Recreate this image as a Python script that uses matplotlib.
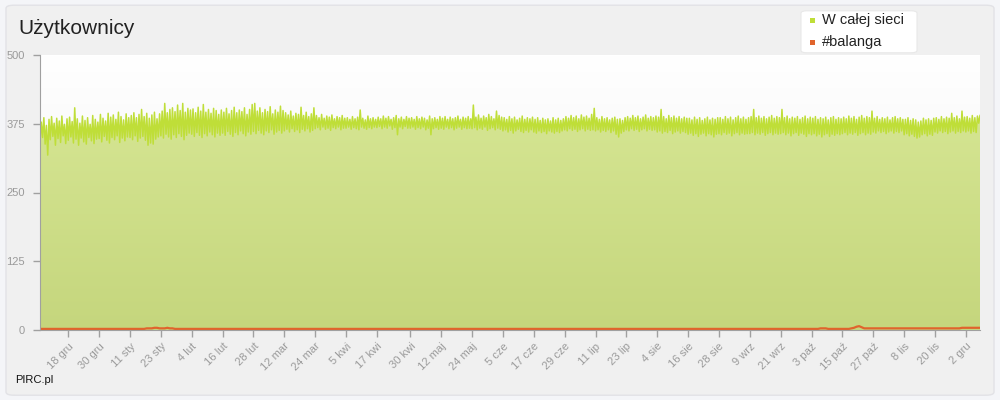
import numpy as np
import matplotlib
matplotlib.use("Agg")
import matplotlib.pyplot as plt
import matplotlib.dates as mdates
from matplotlib.patches import FancyBboxPatch, Rectangle
from matplotlib.colors import LinearSegmentedColormap
import datetime as dt

plt.rcParams['font.family'] = ['Liberation Sans', 'DejaVu Sans']

title = "Użytkownicy"
series_names = ["W całej sieci", "#balanga"]
start_date = dt.date(2012, 12, 7)

# daily high (evening) and low (morning) user counts, whole network
net_hi = [
    378, 386, 372, 383, 388, 376, 385, 380, 389, 374, 384,
    387, 379, 404, 384, 376, 389, 381, 386, 374, 390, 383, 378,
    392, 385, 380, 394, 387, 391, 383, 396, 388, 382, 393, 386,
    390, 395, 386, 392, 401, 388, 394, 385, 391, 396, 384, 393,
    398, 412, 395, 401, 404, 397, 409, 399, 412, 396, 403, 400,
    402, 395, 405, 398, 410, 396, 401, 394, 403, 399, 392, 400,
    396, 403, 393, 399, 405, 395, 400, 397, 404, 392, 401, 410,
    412, 398, 404, 395, 401, 397, 406, 393, 400, 396, 407, 399,
    395, 391, 398, 389, 394, 392, 405, 390, 396, 388, 393, 404,
    390, 386, 392, 385, 389, 387, 391, 384, 388, 386, 390, 385,
    386, 383, 388, 384, 387, 400, 385, 382, 389, 384, 386, 383,
    387, 384, 389, 385, 388, 383, 386, 390, 384, 387, 383, 388, 385,
    386, 383, 388, 384, 387, 385, 382, 389, 384, 386, 383, 388,
    385, 388, 383, 387, 384, 386, 389, 383, 387, 385, 388, 384,
    409, 387, 391, 385, 389, 386, 392, 388, 384, 398, 390, 387,
    386, 383, 388, 384, 387, 382, 385, 389, 383, 386, 384, 387,
    383, 386, 381, 385, 382, 384, 380, 386, 382, 385, 381, 384,
    388, 385, 390, 386, 389, 384, 391, 387, 389, 385, 392, 403,
    386, 383, 388, 384, 386, 382, 385, 387, 383, 384, 381, 386,
    388, 385, 390, 386, 389, 384, 387, 391, 385, 388, 386, 389,
    387, 401, 388, 384, 390, 386, 389, 385, 388, 384, 387, 385,
    385, 382, 387, 383, 386, 381, 384, 387, 382, 385, 383, 386,
    386, 383, 388, 384, 387, 382, 386, 389, 384, 387, 383, 386,
    388, 401, 386, 389, 385, 388, 384, 387, 390, 385, 388, 386,
    401, 386, 389, 384, 387, 385, 388, 383, 386, 389, 384, 387,
    385, 388, 383, 386, 384, 387, 382, 386, 388, 383, 386, 384,
    387, 384, 389, 385, 388, 383, 387, 390, 385, 388, 386, 398,
    385, 388, 383, 386, 384, 387, 382, 386, 388, 384, 386, 383,
    383, 386, 381, 384, 382, 378, 380, 385, 382, 384, 381, 385,
    386, 383, 388, 384, 387, 385, 394, 386, 389, 384, 398, 387,
    388, 385, 390, 386, 389, 390,
]
net_lo = [
    342, 350, 338, 318, 346, 352, 336, 348, 341, 353, 339,
    345, 351, 340, 347, 336, 349, 342, 338, 350, 344, 339, 347,
    348, 342, 352, 345, 340, 350, 346, 353, 341, 349, 344, 351,
    350, 346, 353, 343, 349, 352, 345, 336, 340, 338, 347, 351,
    353, 349, 356, 351, 347, 355, 350, 357, 352, 346, 354, 358,
    356, 352, 359, 354, 350, 357, 353, 360, 355, 351, 358, 354,
    358, 354, 361, 356, 352, 359, 355, 362, 357, 353, 360, 356,
    361, 357, 363, 358, 355, 362, 359, 364, 356, 360, 363, 358,
    362, 365, 360, 366, 361, 364, 359, 365, 362, 366, 360, 363,
    366, 368, 364, 369, 365, 367, 363, 368, 366, 369, 364, 367,
    367, 369, 365, 368, 366, 364, 369, 367, 365, 368, 366, 369,
    368, 370, 366, 369, 367, 371, 365, 368, 355, 369, 366, 370, 367,
    367, 369, 365, 368, 366, 369, 364, 367, 355, 366, 368, 365,
    367, 365, 369, 366, 368, 364, 367, 369, 365, 368, 366, 367,
    366, 368, 364, 367, 365, 369, 363, 366, 368, 364, 367, 365,
    362, 364, 360, 363, 358, 362, 365, 361, 359, 363, 360, 364,
    360, 358, 362, 359, 361, 357, 362, 360, 358, 361, 359, 362,
    364, 362, 366, 363, 365, 361, 364, 366, 362, 365, 363, 364,
    362, 364, 360, 363, 361, 364, 359, 362, 356, 351, 358, 361,
    364, 362, 366, 363, 365, 361, 364, 366, 362, 365, 363, 364,
    360, 362, 358, 361, 359, 363, 357, 360, 362, 358, 361, 359,
    356, 358, 354, 357, 352, 356, 358, 353, 357, 355, 351, 356,
    357, 355, 359, 356, 358, 353, 357, 359, 355, 358, 356, 357,
    357, 359, 355, 358, 356, 359, 354, 357, 359, 355, 358, 356,
    357, 359, 355, 358, 353, 357, 359, 354, 358, 356, 352, 357,
    355, 357, 353, 356, 351, 355, 357, 352, 356, 354, 357, 355,
    357, 359, 355, 358, 356, 359, 354, 357, 359, 355, 358, 356,
    360, 358, 362, 359, 361, 357, 360, 362, 358, 361, 359, 362,
    355, 357, 353, 356, 352, 349, 351, 355, 357, 353, 356, 354,
    360, 358, 362, 359, 361, 357, 360, 362, 358, 361, 359, 362,
    360, 362, 358, 361, 359, 376,
]
# daily users on #balanga
balanga = [
    2, 2, 2, 2, 2, 2, 2, 2, 2, 2, 2,
    2, 2, 2, 2, 2, 2, 2, 2, 2, 2, 2, 2,
    2, 2, 2, 2, 2, 2, 2, 2, 2, 2, 2, 2,
    2, 2, 2, 2, 2, 2, 3, 3, 3, 4, 4, 3,
    3, 3, 4, 3, 3, 2, 2, 2, 2, 2, 2, 2,
    2, 2, 2, 2, 2, 2, 2, 2, 2, 2, 2, 2,
    2, 2, 2, 2, 2, 2, 2, 2, 2, 2, 2, 2,
    2, 2, 2, 2, 2, 2, 2, 2, 2, 2, 2, 2,
    2, 2, 2, 2, 2, 2, 2, 2, 2, 2, 2, 2,
    2, 2, 2, 2, 2, 2, 2, 2, 2, 2, 2, 2,
    2, 2, 2, 2, 2, 2, 2, 2, 2, 2, 2, 2,
    2, 2, 2, 2, 2, 2, 2, 2, 2, 2, 2, 2, 2,
    2, 2, 2, 2, 2, 2, 2, 2, 2, 2, 2, 2,
    2, 2, 2, 2, 2, 2, 2, 2, 2, 2, 2, 2,
    2, 2, 2, 2, 2, 2, 2, 2, 2, 2, 2, 2,
    2, 2, 2, 2, 2, 2, 2, 2, 2, 2, 2, 2,
    2, 2, 2, 2, 2, 2, 2, 2, 2, 2, 2, 2,
    2, 2, 2, 2, 2, 2, 2, 2, 2, 2, 2, 2,
    2, 2, 2, 2, 2, 2, 2, 2, 2, 2, 2, 2,
    2, 2, 2, 2, 2, 2, 2, 2, 2, 2, 2, 2,
    2, 2, 2, 2, 2, 2, 2, 2, 2, 2, 2, 2,
    2, 2, 2, 2, 2, 2, 2, 2, 2, 2, 2, 2,
    2, 2, 2, 2, 2, 2, 2, 2, 2, 2, 2, 2,
    2, 2, 2, 2, 2, 2, 2, 2, 2, 2, 2, 2,
    2, 2, 2, 2, 2, 2, 2, 2, 2, 2, 2, 2,
    2, 2, 2, 3, 3, 3, 2, 2, 2, 2, 2, 2,
    2, 2, 2, 3, 4, 6, 7, 5, 3, 3, 3, 3,
    3, 3, 3, 3, 3, 3, 3, 3, 3, 3, 3, 3,
    3, 3, 3, 3, 3, 3, 3, 3, 3, 3, 3, 3,
    3, 3, 3, 3, 3, 3, 3, 3, 3, 3, 4, 4,
    4, 4, 4, 4, 4, 4,
]

tick_dates = ["2012-12-18", "2012-12-30", "2013-01-11", "2013-01-23", "2013-02-04",
              "2013-02-16", "2013-02-28", "2013-03-12", "2013-03-24", "2013-04-05",
              "2013-04-17", "2013-04-30", "2013-05-12", "2013-05-24", "2013-06-05",
              "2013-06-17", "2013-06-29", "2013-07-11", "2013-07-23", "2013-08-04",
              "2013-08-16", "2013-08-28", "2013-09-09", "2013-09-21", "2013-10-03",
              "2013-10-15", "2013-10-27", "2013-11-08", "2013-11-20", "2013-12-02"]
tick_labels = ["18 gru", "30 gru", "11 sty", "23 sty", "4 lut", "16 lut", "28 lut",
               "12 mar", "24 mar", "5 kwi", "17 kwi", "30 kwi", "12 maj", "24 maj",
               "5 cze", "17 cze", "29 cze", "11 lip", "23 lip", "4 sie", "16 sie",
               "28 sie", "9 wrz", "21 wrz", "3 paź", "15 paź", "27 paź", "8 lis",
               "20 lis", "2 gru"]
y_ticks = [0, 125, 250, 375, 500]

# ---- build series on a date axis ----
n = min(len(net_hi), len(net_lo))
base = mdates.date2num(start_date)
days = base + np.arange(n)
net_x = np.empty(2 * n)
net_y = np.empty(2 * n)
net_x[0::2] = days
net_x[1::2] = days + 0.5
net_y[0::2] = net_lo[:n]
net_y[1::2] = net_hi[:n]
bal_x = base + np.arange(len(balanga)) + 0.5
bal_y = np.array(balanga, dtype=float)

fig = plt.figure(figsize=(10, 4), dpi=100)
fig.patch.set_facecolor("#f4f5f8")
panel = FancyBboxPatch((0.006, 0.012), 0.988, 0.975,
                       boxstyle="round,pad=0,rounding_size=0.008",
                       transform=fig.transFigure, facecolor="#f0f0f0",
                       edgecolor="#e2e2e6", linewidth=1.0, zorder=-10)
fig.add_artist(panel)

ax = fig.add_axes([0.040, 0.175, 0.940, 0.6875])
ax.set_zorder(1)
ax.set_facecolor("none")
xmin, xmax = net_x[0], net_x[-1]

# background gradient of the plot area
grad = np.linspace(0, 1, 256).reshape(-1, 1)
bg_cmap = LinearSegmentedColormap.from_list("bg", ["#ffffff", "#eeeeee"])
ax.imshow(grad, cmap=bg_cmap, aspect="auto", extent=[xmin, xmax, 0, 500],
          origin="upper", zorder=0)

# area fill with gradient
poly = ax.fill_between(net_x, 0, net_y, color="none", linewidth=0, zorder=1)
fill_cmap = LinearSegmentedColormap.from_list("fill", ["#d6e693", "#c5d67d"])
im = ax.imshow(grad, cmap=fill_cmap, aspect="auto",
               extent=[xmin, xmax, 0, 420], origin="upper", zorder=1)
im.set_clip_path(poly.get_paths()[0], transform=ax.transData)

ax.plot(net_x, net_y, color="#bfde38", linewidth=1.1, zorder=3)
ax.plot(bal_x, bal_y, color="#e0642c", linewidth=1.6, zorder=4)
ax.set_ylim(0, 500)
ax.set_xlim(xmin, xmax)

# axes styling
for s in ["top", "right"]:
    ax.spines[s].set_visible(False)
ax.spines["left"].set_color("#a0a0a0")
ax.spines["bottom"].set_color("#a0a0a0")
ax.spines["left"].set_zorder(5)
ax.spines["bottom"].set_zorder(5)
ax.set_yticks(y_ticks)
ax.set_yticklabels([str(v) for v in y_ticks])
tick_pos = [mdates.date2num(dt.date.fromisoformat(d)) for d in tick_dates]
ax.set_xticks(tick_pos)
ax.set_xticklabels(tick_labels, rotation=45, ha="right", rotation_mode="anchor")
ax.tick_params(axis="both", colors="#a0a0a0", labelcolor="#9a9a9a",
               labelsize=8, length=5, width=1)
ax.tick_params(axis="x", pad=3)
ax.tick_params(axis="y", pad=6)

fig.text(0.018, 0.93, title, fontsize=15, color="#222222", va="center", ha="left")
fig.text(0.015, 0.05, "PIRC.pl", fontsize=8, color="#111111", va="center", ha="left")

# legend box
leg = FancyBboxPatch((0.801, 0.868), 0.116, 0.105,
                     boxstyle="round,pad=0,rounding_size=0.006",
                     transform=fig.transFigure, facecolor="white",
                     edgecolor="#e8e8e8", linewidth=0.8, zorder=5)
fig.add_artist(leg)
colors = ["#bfde38", "#e0642c"]
for i, (name, c) in enumerate(zip(series_names, colors)):
    yy = 0.95 - i * 0.055
    fig.add_artist(Rectangle((0.8095, yy - 0.0065), 0.005, 0.0125,
                             transform=fig.transFigure, facecolor=c,
                             edgecolor="none", zorder=6))
    fig.text(0.822, yy, name, fontsize=10.5, color="#222222", va="center",
             ha="left", zorder=6)

fig.savefig("out.png", dpi=100, facecolor=fig.get_facecolor())
